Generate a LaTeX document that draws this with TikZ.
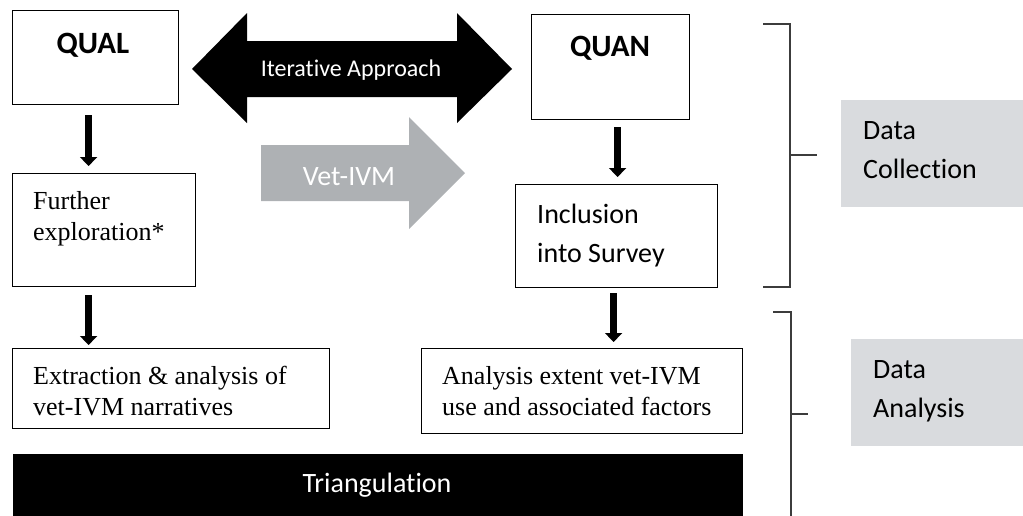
\documentclass[tikz,border=0pt]{standalone}
\usepackage{fontspec}
\setmainfont{Liberation Serif}
\newfontfamily\calibri[Ligatures=NoCommon]{Carlito}
\usetikzlibrary{arrows.meta}
\definecolor{arrowgray}{RGB}{174,177,180}
\definecolor{labelgray}{RGB}{217,219,222}
\definecolor{bracketgray}{RGB}{60,60,60}

\begin{document}
\begin{tikzpicture}[x=1pt,y=-1pt,
				box/.style={draw,line width=1.2pt,anchor=north west,inner sep=0pt},
				txt/.style={anchor=base west,inner sep=0pt,align=left},
				head/.style={anchor=base,inner sep=0pt,font=\calibri\bfseries\fontsize{31}{36}\selectfont},
				sans/.style={font=\calibri\fontsize{28}{39}\selectfont},
				serif/.style={font=\fontsize{26}{31}\selectfont},
				down/.style={line width=7pt,-{Triangle[width=17pt,length=9pt]}},
				bracket/.style={draw=bracketgray,line width=1.2pt},
				stage/.style={fill=labelgray,anchor=north west,inner sep=0pt}]
				
				\useasboundingbox (0,0) rectangle (1023,515);
				
				% QUAL side
				\node[box,minimum width=166pt,minimum height=94pt] (qual) at (12,10) {};
				\node[head] (qualtxt) at (93,53) {QUAL};
				\node[box,minimum width=183pt,minimum height=113pt] (further) at (12,173) {};
				\node[txt,serif] (furthertxt) at (33,240) {Further\\exploration*};
				\node[box,minimum width=317pt,minimum height=80pt] (extract) at (12,348) {};
				\node[txt,serif] (extracttxt) at (33,415) {Extraction \& analysis of\\vet-IVM narratives};
				
				% QUAN side
				\node[box,minimum width=158pt,minimum height=105pt] (quan) at (531,14) {};
				\node[head] (quantxt) at (610,56) {QUAN};
				\node[box,minimum width=202pt,minimum height=103pt] (incl) at (515,184) {};
				\node[txt,sans] (incltxt) at (537,262) {Inclusion\\into Survey};
				\node[box,minimum width=321pt,minimum height=85pt] (analysis) at (421,348) {};
				\node[txt,serif] (analysistxt) at (442,415) {Analysis extent vet-IVM\\use and associated factors};
				
				% vertical arrows
				\draw[down,shorten <=10pt,shorten >=7pt] ([xshift=-7pt]qual.south) -- ([xshift=-7pt]qual.south |- further.north);
				\draw[down,shorten <=7pt,shorten >=7pt] ([xshift=7pt]quan.south) -- ([xshift=7pt]quan.south |- incl.north);
				\draw[down,shorten <=8pt,shorten >=3pt] ([xshift=-15.5pt]further.south) -- ([xshift=-15.5pt]further.south |- extract.north);
				\draw[down,shorten <=5pt,shorten >=6pt] ([xshift=-3pt]incl.south) -- ([xshift=-3pt]incl.south |- analysis.north);
				
				% block arrows
				\fill (192,69) -- (247,13) -- (247,41) -- (457,41) -- (457,13) -- (512,69)
					-- (457,123) -- (457,97) -- (247,97) -- (247,123) -- cycle;
				\node[anchor=base,inner sep=0pt,text=white,font=\calibri\fontsize{24}{28}\selectfont] (iter) at (351,76) {Iterative Approach};
				\fill[arrowgray] (261,145) -- (409,145) -- (409,117) -- (465,173) -- (409,229) -- (409,201) -- (261,201) -- cycle;
				\node[anchor=base,inner sep=0pt,text=white,sans] (vet) at (349,185) {Vet-IVM};
				
				% triangulation bar
				\node[box,draw=none,fill=black,minimum width=730pt,minimum height=70pt] (tri) at (12,453) {};
				\node[anchor=base,inner sep=0pt,text=white,sans] (tritxt) at (377,492) {Triangulation};
				
				% brackets and stage labels
				\draw[bracket] (763,24) -- (790,24) -- (790,287) -- (763,287);
				\draw[bracket] (790,155) -- (817,155);
				\node[stage,minimum width=190pt,minimum height=107pt] (collect) at (841,100) {};
				\node[txt,sans] (collecttxt) at (863,178) {Data\\Collection};
				\draw[bracket] (773,312) -- (791,312) -- (791,520);
				\draw[bracket] (791,414) -- (808,414);
				\node[stage,minimum width=180pt,minimum height=107pt] (analyse) at (851,339) {};
				\node[txt,sans] (analysetxt) at (873,417) {Data\\Analysis};
			\end{tikzpicture}
\end{document}
